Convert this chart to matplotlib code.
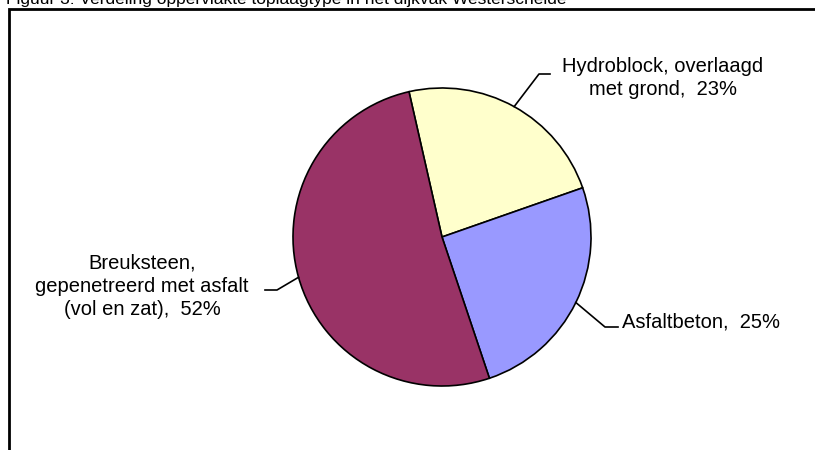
import matplotlib.pyplot as plt
from matplotlib.patches import Rectangle
import numpy as np

plt.rcParams['font.family'] = ['Liberation Sans', 'DejaVu Sans']

# data (share of area per top layer type)
categories = ["Hydroblock, overlaagd\nmet grond", "Asfaltbeton", "Breuksteen,\ngepenetreerd met asfalt\n(vol en zat)"]
shares = [23.2, 25.2, 51.6]
colors = ["#FFFFCC", "#9999FF", "#993366"]

W, H = 815, 450
fig = plt.figure(figsize=(W / 100, H / 100), dpi=100)

# title, mostly cut off at the top edge
fig.text(6 / W, 1 - 4 / H, "Figuur 3: Verdeling oppervlakte toplaagtype in het dijkvak Westerschelde",
         fontsize=12.5, va="baseline", ha="left")

# chart area border (right and bottom run off the picture)
fig.patches.append(Rectangle((9 / W, -0.1), 1.2, (H - 9) / H + 0.1, transform=fig.transFigure,
                             fill=False, edgecolor="black", linewidth=2))

cx, cy, r = 442, 237, 149
ax = fig.add_axes([(cx - r) / W, (H - cy - r) / H, 2 * r / W, 2 * r / H])
wedges, _ = ax.pie(shares, colors=colors, startangle=102.8, counterclock=False,
                   wedgeprops=dict(edgecolor="black", linewidth=1.2))
ax.set_xlim(-1, 1)
ax.set_ylim(-1, 1)
ax.set_aspect("auto")

def px(x, y):
    return (x - cx) / r, (cy - y) / r

# label placement: elbow point, line end, text anchor (pixels)
places = [
    ((539, 74), (550, 74), (663, 78), "center"),
    ((605, 327), (618, 327), (622, 322), "left"),
    ((277, 290), (265, 290), (142, 286), "center"),
]

for w, cat, share, (elbow, end, txt, ha) in zip(wedges, categories, shares, places):
    mid = np.deg2rad((w.theta1 + w.theta2) / 2)
    sx, sy = np.cos(mid), np.sin(mid)
    ex, ey = px(*elbow)
    fx, fy = px(*end)
    ax.plot([sx, ex, fx], [sy, ey, fy], color="black", linewidth=1.2, clip_on=False)
    tx, ty = px(*txt)
    ax.text(tx, ty, f"{cat},  {round(share):.0f}%", ha=ha, va="center",
            multialignment="center", fontsize=14.5, linespacing=1.28, clip_on=False)

fig.savefig("out.png", dpi=100)
